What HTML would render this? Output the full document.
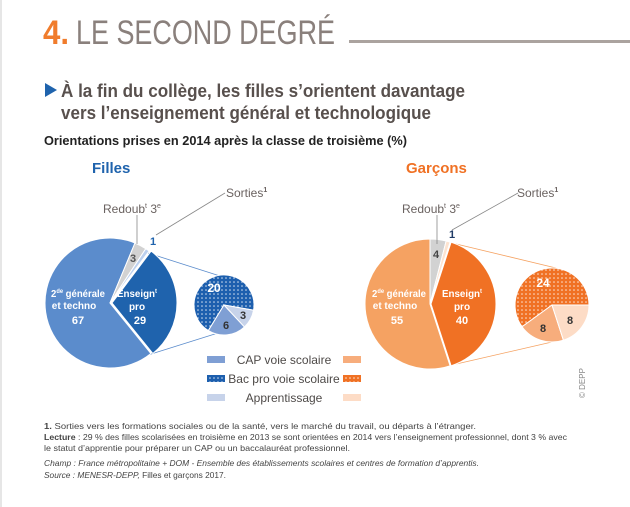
<!DOCTYPE html>
<html><head><meta charset="utf-8">
<style>
body{margin:0;background:#fff;width:630px;height:507px;overflow:hidden;font-family:"Liberation Sans",sans-serif;}
svg{position:absolute;left:0;top:0}
</style></head><body>
<svg id="s" width="630" height="507" viewBox="0 0 630 507" xmlns="http://www.w3.org/2000/svg">
<defs>
<pattern id="pb" width="4" height="4" patternUnits="userSpaceOnUse"><rect width="4" height="4" fill="#1d5fae"/><circle cx="2" cy="2" r="0.8" fill="#fff" opacity="0.8"/></pattern>
<pattern id="po" width="4" height="4" patternUnits="userSpaceOnUse"><rect width="4" height="4" fill="#f07124"/><circle cx="2" cy="2" r="0.8" fill="#fff" opacity="0.8"/></pattern>
</defs>
<line x1="1" y1="0" x2="1" y2="507" stroke="#ccc" stroke-width="1"/>
<text x="43" y="44" font-size="34" fill="#f07c2c" font-weight="bold" textLength="26" lengthAdjust="spacingAndGlyphs">4.</text>
<text x="76" y="44" font-size="34" fill="#8a807c" textLength="259" lengthAdjust="spacingAndGlyphs">LE SECOND DEGRÉ</text>
<rect x="349" y="40" width="281" height="3" fill="#aba39f"/>
<path d="M45 83 L57 90 L45 97 Z" fill="#1f63ad"/>
<text x="61" y="97" font-size="18" font-weight="bold" fill="#58504d" textLength="404" lengthAdjust="spacingAndGlyphs">À la fin du collège, les filles s’orientent davantage</text>
<text x="61" y="119" font-size="18" font-weight="bold" fill="#58504d" textLength="370" lengthAdjust="spacingAndGlyphs">vers l’enseignement général et technologique</text>
<text x="44" y="145" font-size="13" font-weight="bold" fill="#222" textLength="363" lengthAdjust="spacingAndGlyphs">Orientations prises en 2014 après la classe de troisième (%)</text>
<text x="92" y="173" font-size="15" font-weight="bold" fill="#1f63ad">Filles</text>
<text x="406" y="173" font-size="15" font-weight="bold" fill="#f07124">Garçons</text>
<g id="g"></g>
<g font-size="12" fill="#6a6260">
<text x="103" y="213">Redoub<tspan font-size="7" dy="-5">t</tspan><tspan dy="5"> 3</tspan><tspan font-size="7" dy="-5">e</tspan></text>
<text x="226" y="197">Sorties<tspan font-size="7" dy="-5" font-weight="bold">1</tspan></text>
<text x="402" y="213">Redoub<tspan font-size="7" dy="-5">t</tspan><tspan dy="5"> 3</tspan><tspan font-size="7" dy="-5">e</tspan></text>
<text x="517" y="197">Sorties<tspan font-size="7" dy="-5" font-weight="bold">1</tspan></text>
</g>
<g stroke="#888" stroke-width="0.8" fill="none">
<path d="M137 215 L137 244"/><path d="M156 235 L225 193"/>
<path d="M437 215 L437 244"/><path d="M452 230 L518 193"/>
</g>
<g font-size="11" font-weight="bold" text-anchor="middle">
<text x="153" y="245" fill="#1f63ad">1</text>
<text x="133" y="262" fill="#555">3</text>
<text x="452" y="238" fill="#1f3b66">1</text>
<text x="436" y="258" fill="#444">4</text>
<text x="78" y="297" fill="#fff" font-size="10" textLength="54" lengthAdjust="spacingAndGlyphs">2<tspan font-size="6" dy="-4">de</tspan><tspan dy="4"> générale</tspan></text>
<text x="74" y="309" fill="#fff" font-size="10">et techno</text>
<text x="78" y="324" fill="#fff">67</text>
<text x="137" y="297" fill="#fff" font-size="10" textLength="40" lengthAdjust="spacingAndGlyphs">Enseign<tspan font-size="6" dy="-4">t</tspan></text>
<text x="137" y="310" fill="#fff" font-size="10">pro</text>
<text x="140" y="324" fill="#fff">29</text>
<text x="399" y="297" fill="#fff" font-size="10" textLength="54" lengthAdjust="spacingAndGlyphs">2<tspan font-size="6" dy="-4">de</tspan><tspan dy="4"> générale</tspan></text>
<text x="395" y="309" fill="#fff" font-size="10">et techno</text>
<text x="397" y="324" fill="#fff">55</text>
<text x="462" y="297" fill="#fff" font-size="10" textLength="40" lengthAdjust="spacingAndGlyphs">Enseign<tspan font-size="6" dy="-4">t</tspan></text>
<text x="462" y="310" fill="#fff" font-size="10">pro</text>
<text x="462" y="324" fill="#fff">40</text>
<text x="214" y="292" fill="#fff" font-size="12">20</text>
<text x="226" y="329" fill="#333">6</text>
<text x="243" y="319" fill="#333">3</text>
<text x="543" y="287" fill="#fff" font-size="12">24</text>
<text x="543" y="332" fill="#333">8</text>
<text x="570" y="324" fill="#333">8</text>
</g>
<g>
<rect x="207" y="356" width="18" height="7" fill="#7f9fd4"/>
<rect x="207" y="375" width="18" height="7" fill="url(#pb)"/>
<rect x="207" y="394" width="18" height="7" fill="#c7d3ea"/>
<rect x="343" y="356" width="18" height="7" fill="#f7ad7c"/>
<rect x="343" y="375" width="18" height="7" fill="url(#po)"/>
<rect x="343" y="394" width="18" height="7" fill="#fddcc6"/>
<g font-size="12" fill="#4e4a48" text-anchor="middle">
<text x="284" y="364">CAP voie scolaire</text>
<text x="284" y="383">Bac pro voie scolaire</text>
<text x="284" y="402">Apprentissage</text>
</g>
</g>
<text transform="translate(585,398) rotate(-90)" font-size="8" fill="#888">© DEPP</text>
<g font-size="8.5" fill="#444">
<text x="44" y="429" textLength="432" lengthAdjust="spacingAndGlyphs"><tspan font-weight="bold">1.</tspan> Sorties vers les formations sociales ou de la santé, vers le marché du travail, ou départs à l’étranger.</text>
<text x="44" y="440" textLength="523" lengthAdjust="spacingAndGlyphs"><tspan font-weight="bold">Lecture</tspan> : 29 % des filles scolarisées en troisième en 2013 se sont orientées en 2014 vers l’enseignement professionnel, dont 3 % avec</text>
<text x="44" y="451" textLength="306" lengthAdjust="spacingAndGlyphs">le statut d’apprentie pour préparer un CAP ou un baccalauréat professionnel.</text>
<text x="44" y="466" font-style="italic" textLength="435" lengthAdjust="spacingAndGlyphs">Champ : France métropolitaine + DOM - Ensemble des établissements scolaires et centres de formation d’apprentis.</text>
<text x="44" y="478" textLength="182" lengthAdjust="spacingAndGlyphs"><tspan font-style="italic">Source : MENESR-DEPP,</tspan> Filles et garçons 2017.</text>
</g>
</svg>
<script>
function pt(cx,cy,r,a){a=(a-90)*Math.PI/180;return [cx+r*Math.cos(a),cy+r*Math.sin(a)];}
function w(cx,cy,r,a0,a1,f,st){var p0=pt(cx,cy,r,a0),p1=pt(cx,cy,r,a1);var l=(a1-a0)>180?1:0;
return '<path d="M'+cx+' '+cy+' L'+p0[0].toFixed(2)+' '+p0[1].toFixed(2)+' A'+r+' '+r+' 0 '+l+' 1 '+p1[0].toFixed(2)+' '+p1[1].toFixed(2)+' Z" fill="'+f+'" stroke="'+(st||'#fff')+'" stroke-width="1"/>';}
var h='';
h+='<path d="M148 253 L220 276 M148 355 L218 333" stroke="#5b8ccc" stroke-width="0.8" fill="none"/>';
h+='<path d="M452 243 L556 268 M452 365 L552 342" stroke="#f5a262" stroke-width="0.8" fill="none"/>';
h+=w(110,303,65,141,382.6,'#5b8ccc');
h+=w(110,303,65,22.6,33.4,'#d2d2d2');
h+=w(110,303,65,33.4,37,'#bcd0ee');
h+=w(112,303,65,37,141,'#1f63ad');
h+=w(224,305,30,211.5,460,'url(#pb)');
h+=w(224,305,30,137,211.5,'#7f9fd4');
h+=w(224,305,30,100,137,'#c7d3ea');
h+=w(430,304,65,162,360,'#f5a262');
h+=w(430,304,65,0,14.4,'#d2d2d2');
h+=w(430,304,65,14.4,18,'#fde3d0');
h+=w(431,304,65,18,162,'#f07124');
h+=w(552,305,37,234,450,'url(#po)');
h+=w(552,305,37,162,234,'#f7ad7c');
h+=w(552,305,37,90,162,'#fddcc6');
document.getElementById('g').innerHTML=h;
</script>
</body></html>
